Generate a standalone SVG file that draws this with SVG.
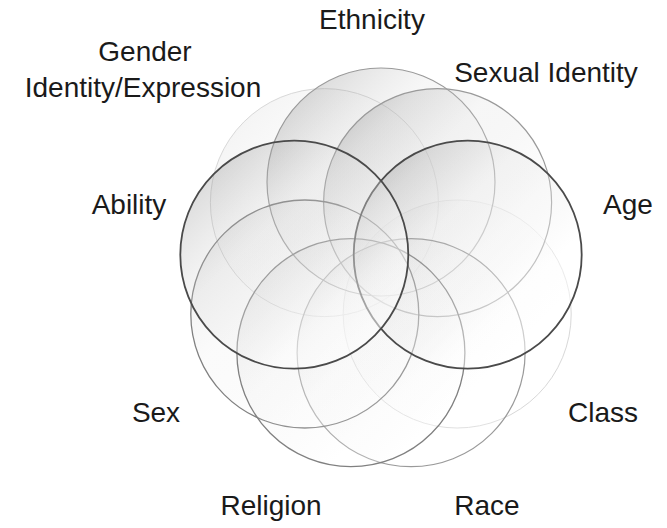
<svg xmlns="http://www.w3.org/2000/svg" width="667" height="528" viewBox="0 0 667 528">
  <defs>
    <linearGradient id="shade" x1="0" y1="0" x2="1" y2="1">
      <stop offset="0" stop-color="#6a6a6a" stop-opacity="0.4"/>
      <stop offset="0.38" stop-color="#d6d6d6" stop-opacity="0.2"/>
      <stop offset="0.7" stop-color="#ffffff" stop-opacity="0.45"/>
      <stop offset="1" stop-color="#ffffff" stop-opacity="0.65"/>
    </linearGradient>
  </defs>
  <style>
    .c { fill: url(#shade); stroke-width: 1.2; }
    .strong { stroke: #4a4a4a; stroke-width: 1.8; }
    .mid { stroke: #808080; stroke-width: 1.3; fill-opacity: 0.5; }
    .soft { stroke: #9a9a9a; stroke-width: 1.2; }
    .lower { fill-opacity: 0.45; }
    .faint { stroke: #d8d8d8; stroke-width: 1; fill-opacity: 0.3; }
    .lbl { font-family: "Liberation Sans", Arial, Helvetica, sans-serif; font-size: 28px; fill: #1a1a1a; text-anchor: middle; }
  </style>
  <rect width="667" height="528" fill="#ffffff"/>
  <g id="gender">
    <circle class="c faint" cx="324.4" cy="202.6" r="114"/>
    <text class="lbl" x="145" y="61">Gender</text>
    <text class="lbl" x="143" y="97">Identity/Expression</text>
  </g>
  <g id="class">
    <circle class="c faint" cx="457.2" cy="314" r="114"/>
    <text class="lbl" x="603" y="422">Class</text>
  </g>
  <g id="ethnicity">
    <circle class="c soft" cx="381" cy="182" r="114"/>
    <text class="lbl" x="372" y="29">Ethnicity</text>
  </g>
  <g id="sexual-identity">
    <circle class="c soft" cx="437.6" cy="202.6" r="114"/>
    <text class="lbl" x="546" y="82">Sexual Identity</text>
  </g>
  <g id="race">
    <circle class="c soft lower" cx="411.1" cy="352.7" r="114"/>
    <text class="lbl" x="487" y="515">Race</text>
  </g>
  <g id="sex">
    <circle class="c mid" cx="304.8" cy="314" r="114"/>
    <text class="lbl" x="156" y="422">Sex</text>
  </g>
  <g id="religion">
    <circle class="c mid" cx="350.9" cy="352.7" r="114"/>
    <text class="lbl" x="271" y="515">Religion</text>
  </g>
  <g id="age">
    <circle class="c strong" cx="467.7" cy="254.7" r="114"/>
    <text class="lbl" x="628" y="214">Age</text>
  </g>
  <g id="ability">
    <circle class="c strong" cx="294.3" cy="254.7" r="114"/>
    <text class="lbl" x="129" y="214">Ability</text>
  </g>
  <g id="connectors"></g>
</svg>
